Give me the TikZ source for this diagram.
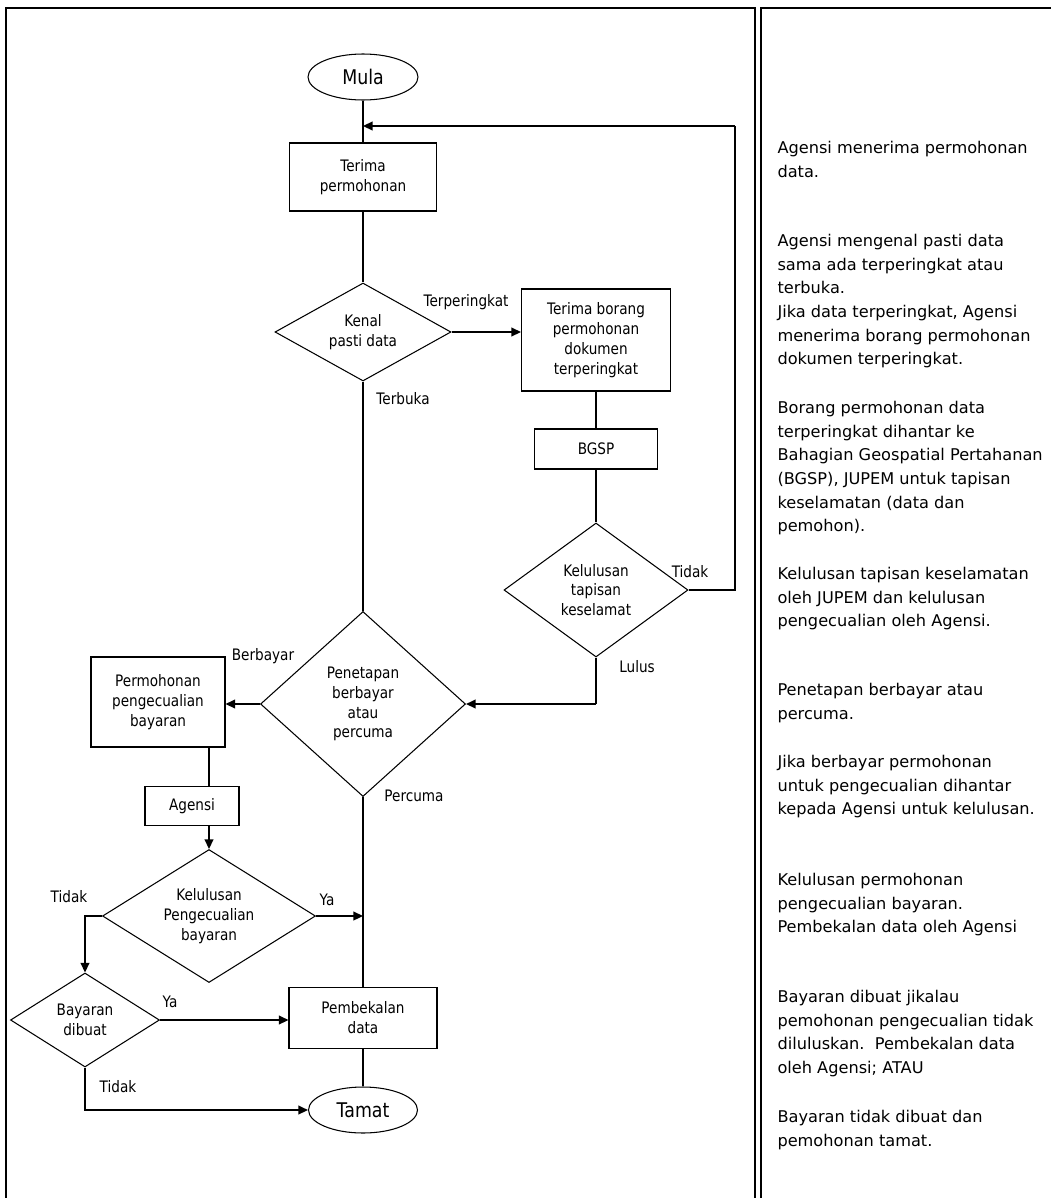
\documentclass[tikz,border=0pt]{standalone}
\usepackage{fontspec}
\setmainfont{DejaVu Sans}
\newfontfamily\chartfont[FakeStretch=0.86]{DejaVu Sans}
\usetikzlibrary{shapes.geometric,arrows.meta}

\begin{document}
\begin{tikzpicture}[x=0.2mm, y=-0.2mm, line width=0.6pt,
  >={Triangle[length=5.5pt,width=5pt]},
  box/.style={draw, rectangle, align=center, font=\chartfont\fontsize{9}{11.3}\selectfont},
  decision/.style={draw, diamond, inner sep=0pt, align=center, font=\chartfont\fontsize{9}{11.3}\selectfont},
  terminal/.style={draw, ellipse, font=\chartfont\fontsize{11.5}{14}\selectfont},
  lbl/.style={inner sep=0pt, font=\chartfont\fontsize{9}{11}\selectfont},
  desc/.style={anchor=north west, align=left, inner sep=0pt, font=\fontsize{9.2}{13.4}\selectfont},
  flow/.style={->, line width=1pt}]
  \useasboundingbox (0,0) rectangle (1051,1198);
  % Frame
  \draw[line width=1pt] (6,1198) -- (6,8) -- (755,8) -- (755,1198);
  \draw[line width=1pt] (761,1198) -- (761,8) -- (1051,8);
  % Nodes
  \node[terminal, minimum width=22mm, minimum height=9.2mm] (mula) at (363,77) {Mula};
  \node[box, minimum width=29.4mm, minimum height=13.6mm] (terima) at (363,177) {Terima\\permohonan};
  \node[decision, aspect=1.8, minimum width=35.2mm, minimum height=19.6mm] (kenal) at (363,332) {Kenal\\pasti data};
  \node[box, minimum width=29.8mm, minimum height=20.4mm] (borang) at (596,340) {Terima borang\\permohonan\\dokumen\\terperingkat};
  \node[box, minimum width=24.6mm, minimum height=8mm] (bgsp) at (596,449) {BGSP};
  \node[decision, aspect=1.37, minimum width=36.8mm, minimum height=26.8mm] (tapisan) at (596,590) {Kelulusan\\tapisan\\keselamat};
  \node[decision, aspect=1.1, minimum width=41mm, minimum height=37mm] (penetapan) at (363,704) {Penetapan\\berbayar\\atau\\percuma};
  \node[box, minimum width=26.8mm, minimum height=18mm] (mohon) at (158,702) {Permohonan\\pengecualian\\bayaran};
  \node[box, minimum width=18.8mm, minimum height=7.8mm] (agensi) at (192,806) {Agensi};
  \node[decision, aspect=1.6, minimum width=42.6mm, minimum height=26.6mm] (kecuali) at (209,916) {Kelulusan\\Pengecualian\\bayaran};
  \node[decision, aspect=1.58, minimum width=29.8mm, minimum height=18.8mm] (dibuat) at (85,1020) {Bayaran\\dibuat};
  \node[box, minimum width=29.6mm, minimum height=12.2mm] (bekal) at (363,1018) {Pembekalan\\data};
  \node[terminal, minimum width=21.8mm, minimum height=9.2mm] (tamat) at (363,1110) {Tamat};
  % Labels
  \node[lbl] (lterperingkat) at (466,302) {Terperingkat};
  \node[lbl] (lterbuka) at (403,399) {Terbuka};
  \node[lbl] (ltidaka) at (690,572) {Tidak};
  \node[lbl] (llulus) at (637,667) {Lulus};
  \node[lbl] (lberbayar) at (263,656) {Berbayar};
  \node[lbl] (lpercuma) at (414,796) {Percuma};
  \node[lbl] (lyaa) at (327,900) {Ya};
  \node[lbl] (ltidakb) at (69,897) {Tidak};
  \node[lbl] (lyab) at (170,1002) {Ya};
  \node[lbl] (ltidakc) at (118,1087) {Tidak};
  % Connectors
  \coordinate (masuk) at (363,126);
  \coordinate (balik) at (735,126);
  \coordinate (lulus) at (tapisan.south |- penetapan.east);
  \draw (mula) -- (terima);
  \draw (tapisan.east) -| (balik);
  \draw[flow] (balik) -- (masuk);
  \draw (terima) -- (kenal);
  \draw[flow] (kenal.east) -- (kenal.east -| borang.west);
  \draw (kenal) -- (penetapan);
  \draw (borang) -- (bgsp);
  \draw (bgsp) -- (tapisan);
  \draw (tapisan.south) -- (lulus);
  \draw[flow] (lulus) -- (penetapan.east);
  \draw[flow] (penetapan.west) -- (penetapan.west -| mohon.east);
  \draw (mohon.south -| kecuali) -- (agensi.north -| kecuali);
  \draw[flow] (agensi.south -| kecuali) -- (kecuali.north);
  \draw (penetapan) -- (bekal);
  \draw[flow] (kecuali.east) -- (kecuali.east -| penetapan.south);
  \draw[flow] (kecuali.west) -| (dibuat.north);
  \draw[flow] (dibuat.east) -- (dibuat.east -| bekal.west);
  \draw (bekal) -- (tamat);
  \draw[flow] (dibuat.south) |- (tamat.west);
  % Descriptions
  \node[desc] (desca) at (777,141) {Agensi menerima permohonan\\data.};
  \node[desc] (descb) at (777,234) {Agensi mengenal pasti data\\sama ada terperingkat atau\\terbuka.\\Jika data terperingkat, Agensi\\menerima borang permohonan\\dokumen terperingkat.};
  \node[desc] (descc) at (777,401) {Borang permohonan data\\terperingkat dihantar ke\\Bahagian Geospatial Pertahanan\\(BGSP), JUPEM untuk tapisan\\keselamatan (data dan\\pemohon).};
  \node[desc] (descd) at (777,567) {Kelulusan tapisan keselamatan\\oleh JUPEM dan kelulusan\\pengecualian oleh Agensi.};
  \node[desc] (desce) at (777,683) {Penetapan berbayar atau\\percuma.};
  \node[desc] (descf) at (777,755) {Jika berbayar permohonan\\untuk pengecualian dihantar\\kepada Agensi untuk kelulusan.};
  \node[desc] (descg) at (777,873) {Kelulusan permohonan\\pengecualian bayaran.\\Pembekalan data oleh Agensi};
  \node[desc] (desch) at (777,990) {Bayaran dibuat jikalau\\pemohonan pengecualian tidak\\diluluskan.\ \ Pembekalan data\\oleh Agensi; ATAU};
  \node[desc] (desci) at (777,1110) {Bayaran tidak dibuat dan\\pemohonan tamat.};
\end{tikzpicture}
\end{document}
